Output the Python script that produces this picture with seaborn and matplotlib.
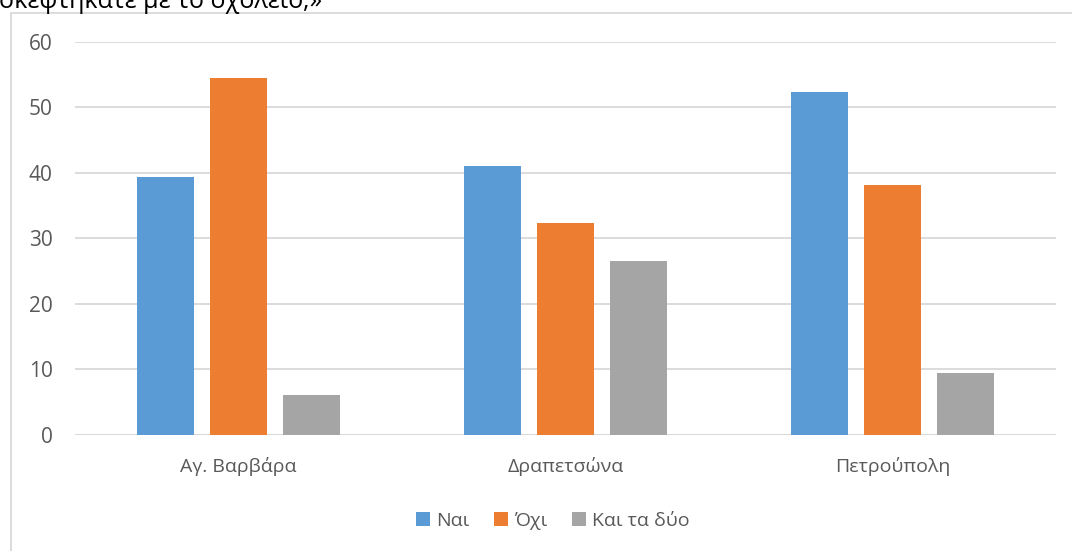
import matplotlib
matplotlib.use("Agg")
import matplotlib.pyplot as plt
import matplotlib.patches as mpatches
import seaborn as sns
import pandas as pd

categories = ["Αγ. Βαρβάρα", "Δραπετσώνα", "Πετρούπολη"]
series_names = ["Ναι", "Όχι", "Και τα δύο"]
nai = [39.4, 41.1, 52.3]
ochi = [54.5, 32.4, 38.1]
kai_ta_dyo = [6.1, 26.5, 9.5]
y_ticks = [0, 10, 20, 30, 40, 50, 60]
title_text = "σκεφτήκατε με το σχολείο;»"

colors = ["#5B9BD5", "#ED7D31", "#A5A5A5"]

rows = []
for name, vals in zip(series_names, [nai, ochi, kai_ta_dyo]):
    for c, v in zip(categories, vals):
        rows.append({"cat": c, "series": name, "value": v})
df = pd.DataFrame(rows)

sns.set_style("white")
plt.rcParams['font.family'] = ['Open Sans', 'DejaVu Sans']
text_color = "#595959"
grid_color = "#D9D9D9"

W, H = 1072, 551
fig = plt.figure(figsize=(W / 100, H / 100), dpi=100)
ax = fig.add_axes([75 / W, 1 - 435 / H, (1056 - 75) / W, (435 - 41.7) / H])

sns.barplot(data=df, x="cat", y="value", hue="series", order=categories,
            hue_order=series_names, palette=colors, width=0.67, gap=0.22,
            linewidth=0, saturation=1, ax=ax, legend=False)

ax.set_ylim(0, 60)
ax.set_xlim(-0.5, 2.5)
ax.set_yticks(y_ticks)
ax.set_yticklabels([str(t) for t in y_ticks])
ax.yaxis.grid(True, color=grid_color, linewidth=1.3)
ax.set_axisbelow(True)
for s in ax.spines.values():
    s.set_visible(False)
ax.axhline(0, color=grid_color, linewidth=1.3, zorder=0.5)
ax.tick_params(axis="both", length=0, labelcolor=text_color)
ax.tick_params(axis="y", pad=16, labelsize=15)
ax.tick_params(axis="x", pad=16, labelsize=14)
ax.set_xlabel("")
ax.set_ylabel("")

# Chart area border
border = mpatches.Rectangle((11 / W, -0.05), 1.1, 1 - 13 / H + 0.05,
                            transform=fig.transFigure, fill=False,
                            edgecolor=grid_color, linewidth=1.3)
fig.add_artist(border)

# Clipped title at top
fig.text(-1 / W, 1 - 8 / H, title_text, fontsize=18, color="#000000",
         va="baseline", ha="left")

handles = [mpatches.Patch(facecolor=c, edgecolor="none") for c in colors]
leg = fig.legend(handles, series_names, loc="center",
                 bbox_to_anchor=(553 / W, 1 - 521 / H), ncol=3, frameon=False,
                 fontsize=14, handlelength=0.7, handleheight=0.7,
                 handletextpad=0.3, columnspacing=1.3)
for t in leg.get_texts():
    t.set_color(text_color)

fig.savefig("out.png", dpi=100)
